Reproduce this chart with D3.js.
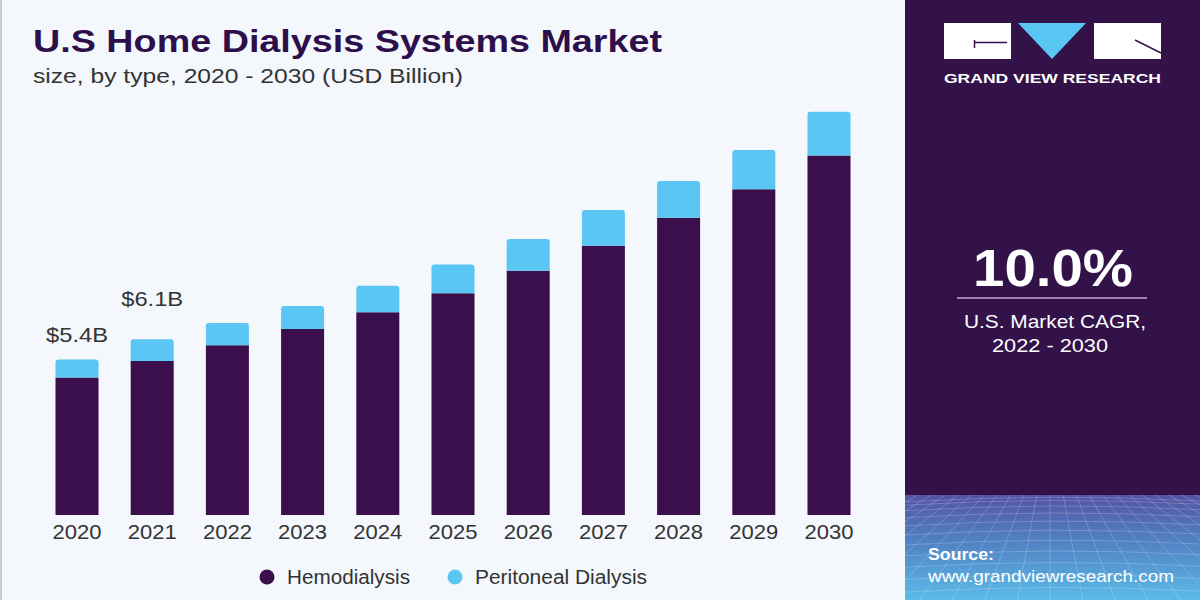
<!DOCTYPE html>
<html>
<head>
<meta charset="utf-8">
<script src="https://cdn.jsdelivr.net/npm/d3@7"></script>
<style>
  html, body { margin: 0; padding: 0; background: #f4f7fb; }
  svg { display: block; }
</style>
</head>
<body>
<svg id="chart" width="1200" height="600"></svg>
<script>
// values (USD billion)
const years = ['2020', '2021', '2022', '2023', '2024', '2025', '2026', '2027', '2028', '2029', '2030']
const hemodialysis = [4.77, 5.35, 5.89, 6.46, 7.04, 7.70, 8.48, 9.35, 10.32, 11.31, 12.48]
const peritoneal = [0.63, 0.75, 0.78, 0.80, 0.92, 1.00, 1.10, 1.24, 1.28, 1.36, 1.52]
const seriesNames = ['Hemodialysis', 'Peritoneal Dialysis']
const labelYears = ['2020', '2021']
const labelTexts = ['$5.4B', '$6.1B']
const cagr = '10.0%'

const W = 1200, H = 600
const dark = '#3a0f4b'
const light = '#5ac6f4'
const colors = d3.scaleOrdinal().domain(seriesNames).range([dark, light])
const FONT = '"Liberation Sans", Arial, sans-serif'

const svg = d3.select('#chart')

// page background + left rule
svg.append('rect').attr('width', W).attr('height', H).attr('fill', '#f4f7fb')
svg.append('rect').attr('x', 0).attr('y', 0).attr('width', 2).attr('height', H).attr('fill', '#c9cdd3')

// title
svg.append('text')
  .attr('x', 33).attr('y', 52)
  .attr('textLength', 629).attr('lengthAdjust', 'spacingAndGlyphs')
  .style('font', '900 31px ' + FONT)
  .attr('fill', '#2d0f4c')
  .text('U.S Home Dialysis Systems Market')
svg.append('text')
  .attr('x', 33).attr('y', 83)
  .attr('textLength', 430).attr('lengthAdjust', 'spacingAndGlyphs')
  .style('font', '21px ' + FONT)
  .attr('fill', '#333')
  .text('size, by type, 2020 - 2030 (USD Billion)')

// scales
const x = d3.scaleBand().domain(years).range([39.4, 866.6]).paddingInner(0.428).paddingOuter(0.214)
const y = d3.scaleLinear().domain([0, 15]).range([515, 83])

const table = years.map((yr, i) => ({year: yr, Hemodialysis: hemodialysis[i], 'Peritoneal Dialysis': peritoneal[i]}))
const stacked = d3.stack().keys(seriesNames)(table)

function barPath (x0, w, yTop, yBot, r) {
  return `M${x0},${yBot}V${yTop + r}Q${x0},${yTop} ${x0 + r},${yTop}H${x0 + w - r}Q${x0 + w},${yTop} ${x0 + w},${yTop + r}V${yBot}Z`
}

const layers = svg.append('g').selectAll('g').data(stacked).join('g')
  .attr('fill', d => colors(d.key))
layers.selectAll('path').data((d, li) => d.map(p => ({p: p, top: li === stacked.length - 1})))
  .join('path')
  .attr('d', d => barPath(x(d.p.data.year), x.bandwidth(), y(d.p[1]), y(d.p[0]), d.top ? 3 : 0))

// x axis labels
const xAxis = svg.append('g').attr('transform', 'translate(0,515)')
  .call(d3.axisBottom(x).tickSize(0).tickPadding(9))
xAxis.select('.domain').remove()
xAxis.selectAll('text')
  .style('font', '21px ' + FONT)
  .attr('fill', '#333')
  .attr('textLength', 49).attr('lengthAdjust', 'spacingAndGlyphs')

// value labels (first two years only)
const totals = new Map(table.map(d => [d.year, d.Hemodialysis + d['Peritoneal Dialysis']]))
const labelGap = [17, 33]
svg.append('g').selectAll('text').data(labelYears).join('text')
  .attr('x', d => x(d) + x.bandwidth() / 2)
  .attr('y', (d, i) => y(totals.get(d)) - labelGap[i])
  .attr('text-anchor', 'middle')
  .attr('textLength', 62).attr('lengthAdjust', 'spacingAndGlyphs')
  .style('font', '21px ' + FONT)
  .attr('fill', '#333')
  .text((d, i) => labelTexts[i])

// legend
const legendX = [267, 455]
const legendW = [123, 172]
const legend = svg.append('g').selectAll('g').data(seriesNames).join('g')
  .attr('transform', (d, i) => `translate(${legendX[i]},577)`)
legend.append('circle').attr('r', 7.5).attr('fill', d => colors(d))
legend.append('text').attr('x', 20).attr('y', 7)
  .attr('textLength', (d, i) => legendW[i]).attr('lengthAdjust', 'spacingAndGlyphs')
  .style('font', '20px ' + FONT)
  .attr('fill', '#333')
  .text(d => d)

// right panel
const panel = svg.append('g')
const defs = svg.append('defs')
const grad = defs.append('linearGradient').attr('id', 'srcGrad').attr('x1', 0).attr('y1', 0).attr('x2', 0).attr('y2', 1)
grad.append('stop').attr('offset', 0).attr('stop-color', '#5253a4')
grad.append('stop').attr('offset', 0.45).attr('stop-color', '#5182c4')
grad.append('stop').attr('offset', 1).attr('stop-color', '#5bbbe8')
defs.append('clipPath').attr('id', 'srcClip').append('rect')
  .attr('x', 905).attr('y', 495).attr('width', 295).attr('height', 105)

panel.append('rect').attr('x', 905).attr('y', 0).attr('width', 295).attr('height', 600).attr('fill', '#33124a')
panel.append('rect').attr('x', 905).attr('y', 495).attr('width', 295).attr('height', 105).attr('fill', 'url(#srcGrad)')

// perspective grid in the source block
const grid = panel.append('g').attr('clip-path', 'url(#srcClip)')
  .attr('stroke', '#ffffff').attr('stroke-opacity', 0.25).attr('stroke-width', 0.8).attr('fill', 'none')
const vx = 1050, vy = 440
d3.range(-40, 41).forEach(k => {
  grid.append('line').attr('x1', vx + k * 3).attr('y1', vy).attr('x2', vx + k * 40).attr('y2', 640)
})
d3.range(0, 14).forEach(k => {
  const yy = 498 + Math.pow(k, 1.45) * 3.2
  grid.append('path').attr('d', `M905,${yy + 4}Q1050,${yy - 5} 1200,${yy + 3}`)
})

// logo
const logo = panel.append('g')
logo.append('rect').attr('x', 944).attr('y', 23).attr('width', 67).attr('height', 36).attr('fill', '#fff')
logo.append('path').attr('d', 'M974,42.5H1007M974.5,40V48').attr('stroke', '#33124a').attr('stroke-width', 1.5)
logo.append('path').attr('d', 'M1018,23H1086L1052,59Z').attr('fill', '#5ac6f4')
logo.append('rect').attr('x', 1094).attr('y', 23).attr('width', 67).attr('height', 36).attr('fill', '#fff')
logo.append('path').attr('d', 'M1135,40L1161,53').attr('stroke', '#33124a').attr('stroke-width', 1.5)
logo.append('text').attr('x', 1052.5).attr('y', 83).attr('text-anchor', 'middle')
  .attr('textLength', 217).attr('lengthAdjust', 'spacingAndGlyphs')
  .style('font', 'bold 13px ' + FONT).attr('fill', '#fff')
  .text('GRAND VIEW RESEARCH')

// CAGR
panel.append('text').attr('x', 1053).attr('y', 286).attr('text-anchor', 'middle')
  .attr('textLength', 160).attr('lengthAdjust', 'spacingAndGlyphs')
  .style('font', 'bold 51px ' + FONT).attr('fill', '#fff')
  .text(cagr)
panel.append('line').attr('x1', 957).attr('x2', 1147).attr('y1', 298).attr('y2', 298)
  .attr('stroke', '#c7a6e0').attr('stroke-width', 1.5)
panel.append('text').attr('x', 1055).attr('y', 328).attr('text-anchor', 'middle')
  .attr('textLength', 182).attr('lengthAdjust', 'spacingAndGlyphs')
  .style('font', '19px ' + FONT).attr('fill', '#fff')
  .text('U.S. Market CAGR,')
panel.append('text').attr('x', 1050).attr('y', 352).attr('text-anchor', 'middle')
  .attr('textLength', 116).attr('lengthAdjust', 'spacingAndGlyphs')
  .style('font', '19px ' + FONT).attr('fill', '#fff')
  .text('2022 - 2030')

// source
panel.append('text').attr('x', 928).attr('y', 560)
  .attr('textLength', 66).attr('lengthAdjust', 'spacingAndGlyphs')
  .style('font', 'bold 16px ' + FONT).attr('fill', '#fff')
  .text('Source:')
panel.append('text').attr('x', 928).attr('y', 582)
  .attr('textLength', 246).attr('lengthAdjust', 'spacingAndGlyphs')
  .style('font', '17px ' + FONT).attr('fill', '#fff')
  .text('www.grandviewresearch.com')
</script>
</body>
</html>
